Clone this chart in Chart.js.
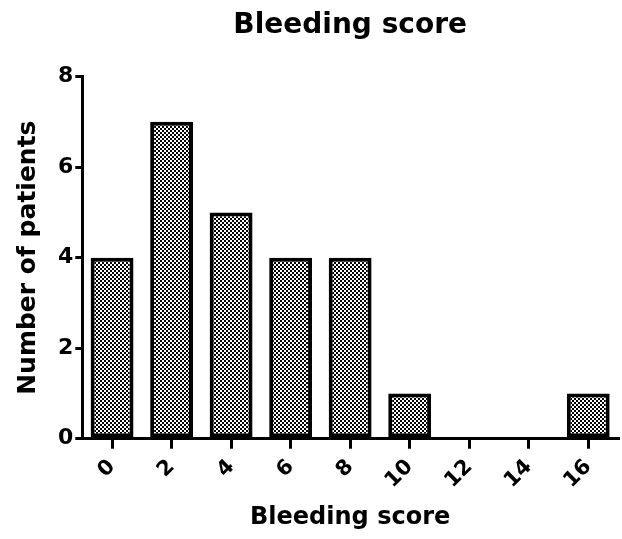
<!DOCTYPE html>
<html>
<head>
<meta charset="utf-8">
<script src="https://cdn.jsdelivr.net/npm/chart.js@4/dist/chart.umd.min.js"></script>
<style>
  html, body { margin: 0; padding: 0; background: #fff; }
  #wrap { width: 622px; height: 539px; }
</style>
</head>
<body>
<div id="wrap"><canvas id="c" width="622" height="539"></canvas></div>
<script>
const categories = ["0", "2", "4", "6", "8", "10", "12", "14", "16"];
const patients = [4, 7, 5, 4, 4, 1, 0, 0, 1];
const yTicks = [0, 2, 4, 6, 8];
const chartTitle = "Bleeding score";
const xTitle = "Bleeding score";
const yTitle = "Number of patients";

function makePattern() {
  const p = document.createElement('canvas');
  p.width = 4; p.height = 4;
  const g = p.getContext('2d');
  g.fillStyle = '#fff'; g.fillRect(0, 0, 4, 4);
  g.fillStyle = '#000';
  g.fillRect(0, 0, 2, 2);
  g.fillRect(2, 2, 2, 2);
  return document.getElementById('c').getContext('2d').createPattern(p, 'repeat');
}

const font = "'DejaVu Sans', Verdana, sans-serif";

new Chart(document.getElementById('c'), {
  type: 'bar',
  data: {
    labels: categories,
    datasets: [{
      data: patients,
      backgroundColor: makePattern(),
      borderColor: '#000',
      borderWidth: 4,
      borderSkipped: false,
      categoryPercentage: 1.0,
      barPercentage: 0.72
    }]
  },
  options: {
    responsive: false,
    animation: false,
    layout: { padding: { left: 13, right: 4, top: 0, bottom: 7 } },
    plugins: {
      legend: { display: false },
      tooltip: { enabled: false },
      title: {
        display: true,
        text: chartTitle,
        fullSize: false,
        color: '#000',
        font: { family: font, size: 28, weight: 'bold' },
        padding: { top: 9, bottom: 34 }
      }
    },
    scales: {
      x: {
        type: 'category',
        offset: true,
        border: { display: true, color: '#000', width: 3 },
        grid: { display: true, drawOnChartArea: false, offset: false, color: '#000', lineWidth: 3, tickLength: 10 },
        ticks: { color: '#000', font: { family: font, size: 21, weight: 'bold' }, minRotation: 45, maxRotation: 45, padding: 6 },
        title: { display: true, text: xTitle, color: '#000', font: { family: font, size: 24, weight: 'bold' }, padding: { top: 4, bottom: 0 } }
      },
      y: {
        min: 0, max: 8,
        afterBuildTicks: (axis) => { axis.ticks = yTicks.map(v => ({ value: v })); },
        border: { display: true, color: '#000', width: 3 },
        grid: { display: true, drawOnChartArea: false, color: '#000', lineWidth: 3, tickLength: 7 },
        ticks: { color: '#000', font: { family: font, size: 22, weight: 'bold' }, padding: 2 },
        title: { display: true, text: yTitle, color: '#000', font: { family: font, size: 25, weight: 'bold' }, padding: { top: 0, bottom: 13 } }
      }
    }
  }
});
</script>
</body>
</html>
